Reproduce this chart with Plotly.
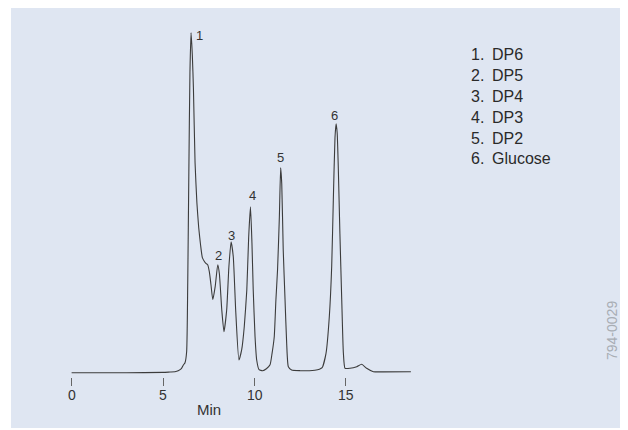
import plotly.graph_objects as go

# ---- data ----
time_min = [0, 3, 5.0, 5.38, 5.65, 5.83, 6.0, 6.11, 6.2, 6.29, 6.35, 6.41, 6.47, 6.53, 6.6, 6.66,
            6.75, 6.85, 6.95, 7.05, 7.15, 7.27, 7.36, 7.44, 7.53, 7.62, 7.72, 7.85, 7.99, 8.08,
            8.21, 8.33, 8.48, 8.6, 8.72, 8.84, 8.97, 9.15, 9.3, 9.44, 9.58, 9.68, 9.78, 9.86,
            9.93, 10.03, 10.12, 10.25, 10.45, 10.65, 10.85, 10.96, 11.08, 11.17, 11.26, 11.36,
            11.43, 11.49, 11.57, 11.67, 11.76, 11.85, 12.03, 12.5, 13.0, 13.3, 13.55, 13.7,
            13.91, 14.09, 14.22, 14.31, 14.4, 14.46, 14.52, 14.58, 14.67, 14.77, 14.86, 14.95,
            15.22, 15.59, 15.86, 16.13, 16.5, 17.0, 18.55]
signal = [0, 0, 0.3, 0.7, 1, 2, 4, 7.7, 10, 21, 90, 200, 300, 340, 318, 285,
          210, 170, 145, 128, 115, 111, 109, 108, 101, 88, 73, 86, 108, 99,
          63, 41, 63, 106, 131, 116, 63, 12.7, 23, 46, 83, 135, 166, 130,
          83, 36, 12.7, 3, 2, 4, 8, 19.4, 36, 72.7, 103, 156,
          205, 189, 123, 73, 29, 6, 2.7, 2, 2, 2.5, 3.5, 5,
          19.4, 56, 106, 173, 235, 249, 240, 206, 139, 73, 19.4, 4.4,
          4.4, 6, 8.4, 4.4, 1, 0.8, 1]

peak_labels = ["1", "2", "3", "4", "5", "6"]
peak_times = [7.0, 8.02, 8.73, 9.88, 11.43, 14.4]
peak_label_heights = [337.7, 117, 137, 177, 215, 257.7]

legend_numbers = ["1.", "2.", "3.", "4.", "5.", "6."]
legend_names = ["DP6", "DP5", "DP4", "DP3", "DP2", "Glucose"]

tick_vals = [0, 5, 10, 15]
tick_text = ["0", "5", "10", "15"]

# ---- layout geometry (page pixels; the page body has an 8px margin) ----
OFF = 8
PAGE_W, PAGE_H = 628, 430
W, H = PAGE_W - OFF, PAGE_H - OFF
PLOT_LEFT, PLOT_RIGHT, PLOT_TOP, PLOT_BOTTOM = 40, 440, 20, 377
L = PLOT_LEFT - OFF
T = PLOT_TOP - OFF
R = W - (PLOT_RIGHT - OFF)
B = H - (PLOT_BOTTOM - OFF)
plot_w = PLOT_RIGHT - PLOT_LEFT
plot_h = PLOT_BOTTOM - PLOT_TOP
x0_px, px_per_min = 71.6, 18.29
base_px = 372.7

x_range = [(PLOT_LEFT - x0_px) / px_per_min, (PLOT_RIGHT - x0_px) / px_per_min]
y_range = [base_px - PLOT_BOTTOM, base_px - PLOT_TOP]


def px_x(px):
    return (px - PLOT_LEFT) / plot_w


def px_y(py):
    return (PLOT_BOTTOM - py) / plot_h


FONT = "Liberation Sans, Arial, sans-serif"
TXT = "#333333"

fig = go.Figure()
fig.add_trace(go.Scatter(
    x=time_min, y=signal, mode="lines",
    line=dict(color="#3c3c3c", width=1.1, shape="spline", smoothing=0.5),
    hoverinfo="skip", showlegend=False,
))

annotations = []
for lab, t, h in zip(peak_labels, peak_times, peak_label_heights):
    annotations.append(dict(x=t, y=h, xref="x", yref="y", text=lab, showarrow=False,
                            font=dict(family=FONT, size=13, color=TXT),
                            xanchor="center", yanchor="middle"))

for tv, tt in zip(tick_vals, tick_text):
    annotations.append(dict(x=tv, y=px_y(395), xref="x", yref="paper", text=tt,
                            showarrow=False, xanchor="center", yanchor="middle",
                            font=dict(family=FONT, size=14, color=TXT)))

leg_y = [55, 75.8, 96.6, 117.4, 138.2, 159]
for num, name, yy in zip(legend_numbers, legend_names, leg_y):
    annotations.append(dict(x=px_x(468.5), y=px_y(yy), xref="paper", yref="paper", text=num,
                            showarrow=False, xanchor="left", yanchor="middle",
                            font=dict(family=FONT, size=16, color="#2a2a2a")))
    annotations.append(dict(x=px_x(490), y=px_y(yy), xref="paper", yref="paper", text=name,
                            showarrow=False, xanchor="left", yanchor="middle",
                            font=dict(family=FONT, size=16, color="#2a2a2a")))

annotations.append(dict(x=7.5, y=px_y(409.5), xref="x", yref="paper", text="Min",
                        showarrow=False, xanchor="center", yanchor="middle",
                        font=dict(family=FONT, size=15, color=TXT)))
annotations.append(dict(x=px_x(612), y=px_y(331), xref="paper", yref="paper", text="794-0029",
                        showarrow=False, textangle=-90, xanchor="center", yanchor="middle",
                        font=dict(family=FONT, size=14, color="#a8adb4")))

fig.update_layout(
    width=W, height=H,
    margin=dict(l=L, r=R, t=T, b=B, pad=0),
    paper_bgcolor="white",
    plot_bgcolor="rgba(0,0,0,0)",
    showlegend=False,
    annotations=annotations,
    shapes=[dict(type="rect", xref="paper", yref="paper",
                 x0=px_x(11), x1=px_x(626), y0=px_y(428), y1=px_y(6),
                 fillcolor="#dfe6f2", line=dict(width=0), layer="below")],
    xaxis=dict(range=x_range, tickvals=tick_vals, showticklabels=False,
               ticks="outside", ticklen=8, tickwidth=1, tickcolor="#666666",
               showline=False, showgrid=False, zeroline=False),
    yaxis=dict(range=y_range, visible=False, showgrid=False, zeroline=False),
)

fig.write_html("out.html")
